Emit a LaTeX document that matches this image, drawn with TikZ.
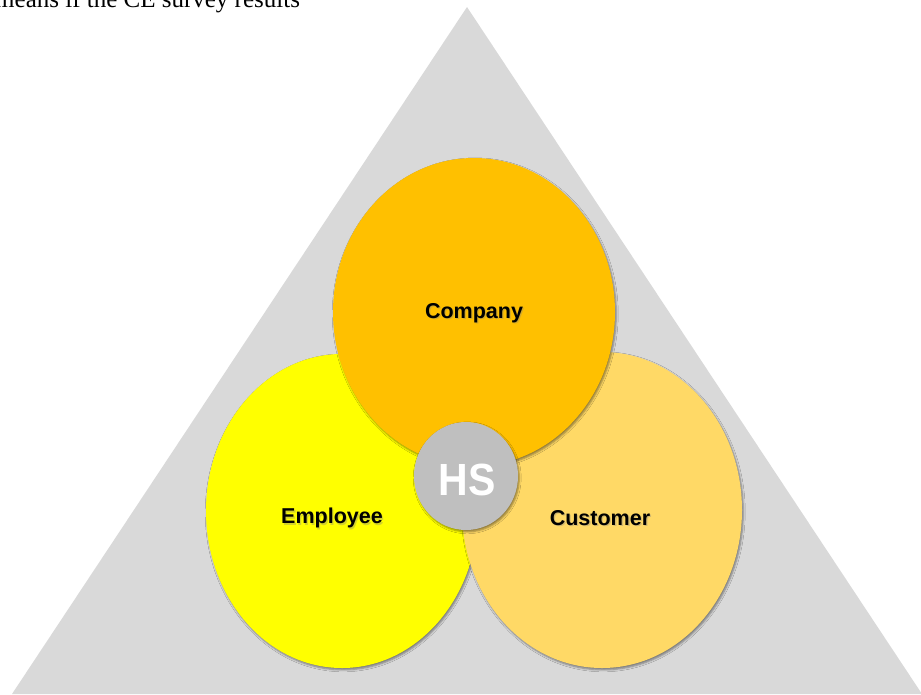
\documentclass[tikz,border=0pt]{standalone}
\usepackage{fontspec}
\setmainfont{Liberation Serif}
\newfontfamily\lsans{Liberation Sans}
\usetikzlibrary{shadows,shadows.blur,shapes.geometric}
\definecolor{trigray}{HTML}{D9D9D9}
\definecolor{compcol}{HTML}{FFC000}
\definecolor{empcol}{HTML}{FFFF00}
\definecolor{custcol}{HTML}{FFD966}
\definecolor{hscol}{HTML}{BFBFBF}
\tikzset{
  blob/.style={ellipse, inner sep=0pt, draw=none,
    blur shadow={shadow xshift=1.2pt, shadow yshift=-1.8pt, shadow blur steps=4, shadow blur radius=2pt, shadow opacity=45}},
  lab/.style={font=\lsans\bfseries\fontsize{21.5}{22}\selectfont, text=black},
  labshadow/.style={font=\lsans\bfseries\fontsize{21.5}{22}\selectfont, text=black!50, opacity=0.35},
}
\begin{document}
\begin{tikzpicture}[x=1pt,y=-1pt]
\useasboundingbox (0,0) rectangle (921,694);
% top cut-off text
\node[anchor=base west, inner sep=0pt, font=\fontsize{25}{27}\selectfont] (toptext) at (-5,7) {means if the CE survey results};
% triangle
\fill[trigray] (467,7) coordinate (apex) -- (12,694) coordinate (bl) -- (922,694) coordinate (br) -- cycle;
% circles
\node[blob, fill=empcol, minimum width=272pt, minimum height=314pt] (emp) at (342,511) {};
\node[blob, fill=custcol, minimum width=280pt, minimum height=316pt] (cust) at (602,510) {};
\node[blob, fill=compcol, minimum width=282pt, minimum height=308pt] (comp) at (474,312) {};
\node[blob, fill=hscol, minimum width=104pt, minimum height=108pt] (hs) at (466,476) {};
% labels
\node[labshadow] at (333.3,519.5) {Employee};
\node[lab] (emplab) at (332,518) {Employee};
\node[labshadow] at (601.3,519.5) {Customer};
\node[lab] (custlab) at (600,518) {Customer};
\node[labshadow] at (475.3,314.5) {Company};
\node[lab] (complab) at (474,313) {Company};
\node[font=\lsans\bfseries\fontsize{41}{43}\selectfont, text=white, yscale=1.1] (hslab) at (467,480) {HS};
\end{tikzpicture}
\end{document}
